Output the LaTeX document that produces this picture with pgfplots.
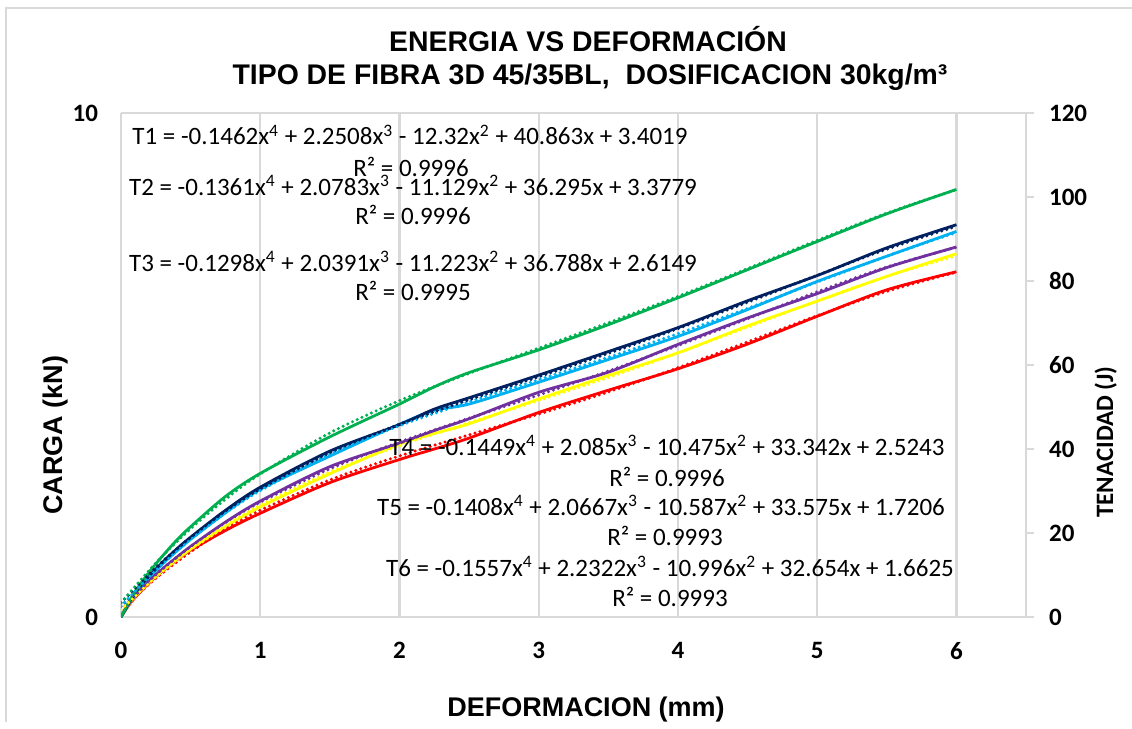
\documentclass[border=0pt]{standalone}
\usepackage{pgfplots}
\pgfplotsset{compat=1.18}
\usepackage{pgfplotstable}
\usepackage{fontspec}
\setmainfont{Carlito}
\newfontfamily\arial{Liberation Sans}

\definecolor{gridc}{HTML}{D9D9D9}
\definecolor{cgreen}{HTML}{00B050}
\definecolor{cnavy}{HTML}{002060}
\definecolor{cblue}{HTML}{00B0F0}
\definecolor{cpurple}{HTML}{7030A0}
\definecolor{cyellow}{HTML}{FFFF00}
\definecolor{cred}{HTML}{FF0000}

\newcommand\eqfont{\fontsize{12.5bp}{15bp}\selectfont}
\newcommand\tickfont{\fontsize{12.5bp}{15bp}\selectfont\bfseries}
\newcommand\titlefont{\fontsize{14.2bp}{17bp}\selectfont\arial\bfseries}
\newcommand\labfont{\fontsize{13.5bp}{16bp}\selectfont\arial\bfseries}

% measured curves (energy, J)
\pgfplotstableread{
x     d1     d2    d3    d4    d5    d6
0     0      0     0     0     0     0
0.05  3.2    3.0   2.9   2.7   2.6   2.5
0.1   6.0    5.6   5.4   5.0   4.8   4.6
0.2   10.6   9.7   9.4   8.6   8.3   8.1
0.3   14.6   13.1  12.7  11.5  11.1  11.0
0.4   18.3   16.2  15.7  14.2  13.7  13.6
0.5   21.5   19.0  18.5  16.8  16.1  15.9
0.75  28.7   25.4  24.8  22.6  21.5  20.6
1     34.2   30.9  30.4  27.6  26.2  24.7
1.5   42.9   39.5  38.3  35.8  34.1  32.0
2     50.7   45.8  45.9  41.4  41.2  37.5
2.25  54.8   49.5  49.2  44.4  43.7  40.0
2.5   58.2   52.2  50.7  47.2  46.0  42.6
3     63.6   57.6  55.9  53.5  51.9  48.7
3.5   69.6   63.2  61.3  58.3  57.5  54.0
4     76.0   68.9  66.8  64.9  62.9  59.1
4.5   82.7   75.3  73.2  71.2  69.3  65.0
5     89.4   81.3  79.9  77.0  75.2  71.6
5.5   96.0   87.9  85.9  83.2  81.1  77.9
6     101.8  93.4  91.8  88.1  86.5  82.2
}\datatable

% polynomial trendlines, values at each x
\pgfplotstableread{
x     t1       t2      t3      t4      t5      t6
0     3.402    3.378   2.615   2.524   1.721   1.663
0.25  12.882   11.788  11.142  10.237  9.484   9.173
0.5   21.026   18.994  18.450  16.828  16.111  15.510
0.75  28.022   25.173  24.712  22.472  21.774  20.860
1     34.050   30.486  30.090  27.331  26.635  25.397
1.5   43.833   39.105  38.770  35.272  34.525  32.648
2     51.515   45.901  45.535  41.670  40.803  38.353
2.5   58.017   51.716  51.232  47.329  46.282  43.369
3     64.040   57.192  56.514  52.833  51.559  48.318
3.5   70.066   62.764  61.839  58.553  57.023  53.591
4     76.358   68.664  67.473  64.638  62.853  59.344
4.5   82.958   74.919  73.482  71.022  69.013  65.499
5     89.692   81.353  79.742  77.422  75.258  71.745
5.5   96.163   87.585  85.932  83.336  81.133  77.532
6     101.758  93.030  91.550  88.040  85.970  82.098
}\fittable

\pgfplotsset{
  base/.style={
    at={(60.5bp,-308.5bp)}, anchor=south west,
    scale only axis, width=452.5bp, height=252bp,
    xmin=0, xmax=6.5,
    axis line style={gridc, line width=1.1bp, -},
    /pgf/number format/assume math mode=true,
    ticklabel style={font=\tickfont},
  },
  dat/.style={line width=1.4bp, smooth, no marks},
  fit/.style={line width=1.7bp, smooth, no marks, line cap=round,
    dash pattern=on 0pt off 2.6bp},
}

\begin{document}
\begin{tikzpicture}
\begin{scope}[x=0.5bp, y=-0.5bp]
  \useasboundingbox (0,0) rectangle (1132,722);
  \draw[gridc, line width=1bp] (6,722) -- (6,8) -- (1132,8);
\end{scope}

\begin{axis}[base,
  ymin=0, ymax=10, ytick={0,10}, xtick={0,...,6},
  axis x line*=bottom, axis y line*=left,
  xmajorgrids, ymajorgrids,
  grid style={gridc, line width=1.1bp},
  major tick length=0pt,
  xticklabel style={yshift=-9bp},
  yticklabel style={xshift=-8bp},
]
\end{axis}

\begin{axis}[base,
  ymin=0, ymax=120, ytick={0,20,...,120},
  axis x line=none, axis y line*=right,
  tick align=outside, major tick length=4bp,
  tick style={gridc, line width=1.1bp},
  yticklabel style={xshift=4bp},
]
\addplot[dat, cred]    table[x=x, y=d6] {\datatable};
\addplot[dat, cyellow] table[x=x, y=d5] {\datatable};
\addplot[dat, cpurple] table[x=x, y=d4] {\datatable};
\addplot[dat, cblue]   table[x=x, y=d3] {\datatable};
\addplot[dat, cnavy]   table[x=x, y=d2] {\datatable};
\addplot[dat, cgreen]  table[x=x, y=d1] {\datatable};
\addplot[fit, cred]    table[x=x, y=t6] {\fittable};
\addplot[fit, cyellow] table[x=x, y=t5] {\fittable};
\addplot[fit, cpurple] table[x=x, y=t4] {\fittable};
\addplot[fit, cblue]   table[x=x, y=t3] {\fittable};
\addplot[fit, cnavy]   table[x=x, y=t2] {\fittable};
\addplot[fit, cgreen]  table[x=x, y=t1] {\fittable};
\end{axis}

\begin{scope}[x=0.5bp, y=-0.5bp]
  \node[font=\titlefont, anchor=base] at (588,52) {ENERGIA VS DEFORMACIÓN};
  \node[font=\titlefont, anchor=base] at (590,85) {TIPO DE FIBRA 3D 45/35BL,\ \ DOSIFICACION 30kg/m³};
  \node[font=\labfont, anchor=base] at (586,716) {DEFORMACION (mm)};
  \node[font=\labfont, anchor=base, rotate=90] at (62,435) {CARGA (kN)};
  \node[font=\tickfont, anchor=base, rotate=90] at (1113,442) {TENACIDAD (J)};

  \begin{scope}[every node/.style={font=\eqfont, anchor=base, inner sep=0pt}]
  \node at (410,145) {T1 = -0.1462x\textsuperscript{4} + 2.2508x\textsuperscript{3} - 12.32x\textsuperscript{2} + 40.863x + 3.4019};
  \node at (411,176) {R² = 0.9996};
  \node at (413,195) {T2 = -0.1361x\textsuperscript{4} + 2.0783x\textsuperscript{3} - 11.129x\textsuperscript{2} + 36.295x + 3.3779};
  \node at (413,225) {R² = 0.9996};
  \node at (413,271) {T3 = -0.1298x\textsuperscript{4} + 2.0391x\textsuperscript{3} - 11.223x\textsuperscript{2} + 36.788x + 2.6149};
  \node at (413,300) {R² = 0.9995};
  \node at (667,455) {T4 = -0.1449x\textsuperscript{4} + 2.085x\textsuperscript{3} - 10.475x\textsuperscript{2} + 33.342x + 2.5243};
  \node at (667,486) {R² = 0.9996};
  \node at (661,515) {T5 = -0.1408x\textsuperscript{4} + 2.0667x\textsuperscript{3} - 10.587x\textsuperscript{2} + 33.575x + 1.7206};
  \node at (665,545) {R² = 0.9993};
  \node at (670,576) {T6 = -0.1557x\textsuperscript{4} + 2.2322x\textsuperscript{3} - 10.996x\textsuperscript{2} + 32.654x + 1.6625};
  \node at (670,606) {R² = 0.9993};
  \end{scope}
\end{scope}
\end{tikzpicture}
\end{document}
